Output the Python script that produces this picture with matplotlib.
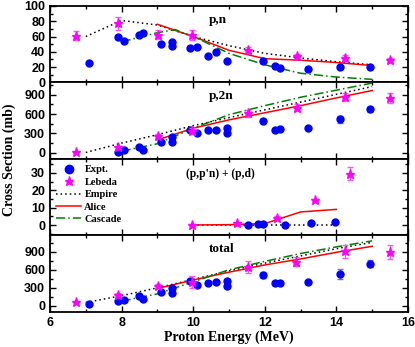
import numpy as np
import matplotlib
matplotlib.use("Agg")
import matplotlib.pyplot as plt
from matplotlib.lines import Line2D

# ---- data ----
# p,n
pn_exp_x = [7.10, 7.91, 8.06, 8.49, 8.59, 9.09, 9.42, 9.42, 9.92, 10.11, 10.42, 10.64, 10.94, 11.94, 12.28, 12.43, 13.21, 14.10, 14.94]
pn_exp_y = [25.5, 60, 54, 62, 64, 50, 53, 48, 45, 46, 35, 40, 28, 28, 22, 19, 17.6, 20.7, 20]
pn_leb_x = [6.73, 7.91, 9.01, 9.96, 11.54, 12.90, 14.24, 15.50]
pn_leb_y = [61, 77, 62.5, 62, 42.5, 34, 32, 29]
pn_leb_err = [6, 8, 6, 7, 4, 3, 4, 3]
pn_emp_x = [7, 8, 9, 10, 11, 12, 13, 14, 15]
pn_emp_y = [60, 81, 75, 60, 48, 38, 32, 27, 23]
pn_ali_x = [9, 10, 11, 12, 13, 14, 15]
pn_ali_y = [76, 60, 42, 31, 29, 26, 22]
pn_cas_x = [8, 9, 9.5, 10, 11, 12, 13, 14, 15]
pn_cas_y = [53, 65, 69, 60, 38, 23, 12, 7, 4]

# p,2n
p2n_exp_x = [7.91, 8.06, 8.49, 8.59, 9.09, 9.42, 9.42, 9.92, 10.11, 10.42, 10.64, 10.94, 10.94, 11.94, 12.28, 12.43, 13.21, 14.10, 14.94]
p2n_exp_y = [16, 47, 84, 47, 169, 242, 163, 352, 305, 352, 347, 390, 305, 490, 347, 363, 384, 516, 674]
p2n_exp_err = [10, 10, 10, 10, 15, 15, 15, 20, 20, 20, 20, 20, 20, 25, 20, 20, 20, 60, 35]
p2n_leb_x = [6.73, 7.91, 9.01, 9.96, 11.54, 12.90, 14.24, 15.50]
p2n_leb_y = [5, 84, 258, 337, 611, 700, 864, 848]
p2n_leb_err = [5, 20, 30, 40, 50, 50, 60, 80]
p2n_emp_x = [7, 8, 9, 10, 11, 12, 13, 14, 15]
p2n_emp_y = [5, 150, 280, 420, 545, 665, 785, 905, 1025]
p2n_ali_x = [9, 10, 11, 12, 13, 14, 15]
p2n_ali_y = [200, 380, 510, 620, 730, 850, 965]
p2n_cas_x = [8, 9, 10, 11, 12, 13, 14, 15]
p2n_cas_y = [25, 140, 380, 590, 730, 860, 970, 1080]

# (p,p'n) + (p,d)
ppn_exp_x = [11.54, 11.82, 11.94, 12.56, 13.28, 13.96]
ppn_exp_y = [0, 0.4, 0.6, 0, 1.0, 1.7]
ppn_leb_x = [9.96, 11.23, 12.33, 13.40, 14.38]
ppn_leb_y = [0, 1.0, 4.2, 14.2, 29.6]
ppn_leb_err = [0.3, 0.3, 0.8, 1.0, 4]
ppn_emp_x = [10, 11, 12, 13, 14]
ppn_emp_y = [0, 0, 0, 0, 0]
ppn_ali_x = [10, 11, 12, 13, 14]
ppn_ali_y = [0, 0.2, 0.8, 7.5, 9]

# total
tot_exp_x = [7.10, 7.91, 8.06, 8.49, 8.59, 9.09, 9.42, 9.42, 9.92, 10.11, 10.42, 10.64, 10.94, 10.94, 11.94, 12.28, 12.43, 13.21, 14.10, 14.94]
tot_exp_y = [28, 84, 95, 162, 117, 224, 302, 218, 414, 352, 385, 392, 414, 330, 514, 375, 385, 397, 531, 698]
tot_exp_err = [10, 15, 15, 15, 15, 20, 25, 20, 30, 25, 25, 25, 30, 25, 50, 30, 30, 25, 80, 60]
tot_leb_x = [6.73, 7.91, 9.01, 9.96, 11.54, 12.87, 14.24, 15.50]
tot_leb_y = [67, 179, 330, 392, 643, 737, 908, 895]
tot_leb_err = [10, 30, 40, 100, 100, 80, 110, 120]
tot_emp_x = [7, 8, 9, 10, 11, 12, 13, 14, 15]
tot_emp_y = [57, 170, 300, 440, 580, 710, 830, 950, 1055]
tot_ali_x = [9, 10, 11, 12, 13, 14, 15]
tot_ali_y = [290, 430, 560, 680, 780, 890, 990]
tot_cas_x = [8, 9, 10, 11, 12, 13, 14, 15]
tot_cas_y = [80, 200, 400, 600, 740, 870, 980, 1080]

serif = "Liberation Serif"
sans = "Liberation Sans"

fig = plt.figure(figsize=(4.15, 3.47), dpi=100)
gs = fig.add_gridspec(4, 1, left=0.1205, right=0.983, top=0.983, bottom=0.101, hspace=0)
axes = [fig.add_subplot(gs[i]) for i in range(4)]

exp_kw = dict(fmt="o", color="blue", ms=5, ecolor="#6a6aff", elinewidth=0.9, capsize=2.5, zorder=4)
leb_kw = dict(fmt="*", color="magenta", ms=6.5, ecolor="#ff55ff", elinewidth=0.9, capsize=2.5, zorder=5)
emp_kw = dict(color="black", ls=(0, (1, 2)), lw=1.1, zorder=3)
ali_kw = dict(color="red", ls="-", lw=1.1, zorder=3)
cas_kw = dict(color="green", ls=(0, (6, 2, 1, 2)), lw=1.1, zorder=3)

panels = [
    (pn_exp_x, pn_exp_y, None, pn_leb_x, pn_leb_y, pn_leb_err, pn_emp_x, pn_emp_y, pn_ali_x, pn_ali_y, pn_cas_x, pn_cas_y),
    (p2n_exp_x, p2n_exp_y, p2n_exp_err, p2n_leb_x, p2n_leb_y, p2n_leb_err, p2n_emp_x, p2n_emp_y, p2n_ali_x, p2n_ali_y, p2n_cas_x, p2n_cas_y),
    (ppn_exp_x, ppn_exp_y, None, ppn_leb_x, ppn_leb_y, ppn_leb_err, ppn_emp_x, ppn_emp_y, ppn_ali_x, ppn_ali_y, None, None),
    (tot_exp_x, tot_exp_y, tot_exp_err, tot_leb_x, tot_leb_y, tot_leb_err, tot_emp_x, tot_emp_y, tot_ali_x, tot_ali_y, tot_cas_x, tot_cas_y),
]
titles = ["p,n", "p,2n", "(p,p'n) + (p,d)", "total"]
title_pos = [(10.45, 0.78), (10.45, 0.78), (9.8, 0.76), (10.45, 0.78)]
title_size = [9.5, 9.5, 8.3, 9.5]
ylims = [(0, 100), (-95, 1090), (-6, 38), (-100, 1170)]
yticks = [[0, 20, 40, 60, 80, 100], [0, 300, 600, 900], [0, 10, 20, 30], [0, 300, 600, 900]]
yminor = [10, 150, 5, 150]

for ax, p, t, tp, ts, yl, yt, ym in zip(axes, panels, titles, title_pos, title_size, ylims, yticks, yminor):
    ex, ey, eerr, lx, ly, lerr, mx, my, ax_, ay, cx, cy = p
    ax.errorbar(ex, ey, yerr=eerr, **exp_kw)
    ax.errorbar(lx, ly, yerr=lerr, **leb_kw)
    ax.plot(mx, my, **emp_kw)
    ax.plot(ax_, ay, **ali_kw)
    if cx is not None:
        ax.plot(cx, cy, **cas_kw)
    ax.set_xlim(6, 16)
    ax.set_ylim(*yl)
    ax.set_yticks(yt)
    ax.yaxis.set_minor_locator(matplotlib.ticker.MultipleLocator(ym))
    ax.xaxis.set_minor_locator(matplotlib.ticker.MultipleLocator(1))
    ax.set_xticks([6, 8, 10, 12, 14, 16])
    ax.tick_params(direction="in", which="both", top=True, right=True, width=1)
    ax.tick_params(which="major", length=4)
    ax.tick_params(which="minor", length=2)
    for lab in ax.get_yticklabels():
        lab.set_fontfamily(sans)
        lab.set_fontweight("bold")
        lab.set_fontsize(9)
    for s in ax.spines.values():
        s.set_linewidth(1.3)
    ax.text(tp[0], yl[0] + tp[1] * (yl[1] - yl[0]), t, fontfamily=serif,
            fontweight="bold", fontsize=ts)
    if ax is not axes[-1]:
        ax.tick_params(labelbottom=False)

for lab in axes[-1].get_xticklabels():
    lab.set_fontfamily(sans)
    lab.set_fontweight("bold")
    lab.set_fontsize(9)

handles = [
    Line2D([], [], ls="none", marker="o", color="blue", ms=6),
    Line2D([], [], ls="none", marker="*", color="magenta", ms=6.5),
    Line2D([], [], **emp_kw),
    Line2D([], [], **ali_kw),
    Line2D([], [], **cas_kw),
]
axes[2].legend(handles, ["Expt.", "Lebeda", "Empire", "Alice", "Cascade"],
               loc="upper left", frameon=False, prop=dict(family=serif, weight="bold", size=7.5),
               handlelength=2.4, handletextpad=0.3, labelspacing=0.3, borderaxespad=0.2,
               bbox_to_anchor=(0.0, 1.0))

axes[-1].set_xlabel("Proton Energy (MeV)", fontfamily=serif, fontweight="bold", fontsize=10, labelpad=1)
fig.text(0.022, 0.54, "Cross Section (mb)", rotation=90, ha="center", va="center",
         fontfamily=serif, fontweight="bold", fontsize=10)

fig.savefig("out.png", dpi=100)
